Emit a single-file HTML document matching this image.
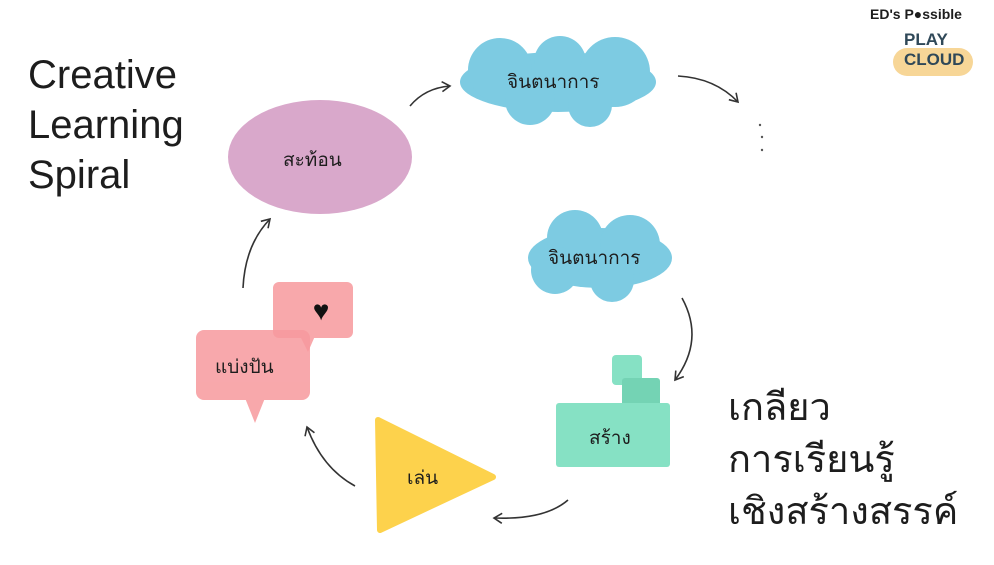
<!DOCTYPE html>
<html><head><meta charset="utf-8"><style>
body{margin:0;width:994px;height:565px;background:#fff;overflow:hidden;position:relative;font-family:"Liberation Sans","Noto Sans CJK SC",sans-serif}
.t{position:absolute;color:#1d1d1d}
</style></head><body>
<svg width="994" height="565" style="position:absolute;left:0;top:0">
<defs><marker id="a" markerWidth="12" markerHeight="12" refX="9" refY="6" orient="auto" markerUnits="userSpaceOnUse"><path d="M1,1 L9,6 L1,11" fill="none" stroke="#333" stroke-width="1.6"/></marker></defs>
<g fill="none" stroke="#333" stroke-width="1.6" marker-end="url(#a)">
<path d="M410,106 Q425,88 450,86"/>
<path d="M678,76 Q715,78 738,102"/>
<path d="M682,298 Q705,340 675,380"/>
<path d="M568,500 Q545,520 494,518"/>
<path d="M355,486 Q322,468 307,427"/>
<path d="M243,288 Q245,245 270,219"/>
</g>
<g fill="#555"><circle cx="760" cy="125" r="1.2"/><circle cx="762" cy="137" r="1.2"/><circle cx="762" cy="150" r="1.2"/></g>
<ellipse cx="320" cy="157" rx="92" ry="57" fill="#d9a8cb"/>
<g fill="#7dcbe2">
<ellipse cx="558" cy="82" rx="98" ry="30"/><circle cx="500" cy="70" r="32"/><circle cx="560" cy="62" r="26"/><circle cx="615" cy="72" r="35"/><circle cx="530" cy="100" r="25"/><circle cx="590" cy="105" r="22"/>
<ellipse cx="600" cy="258" rx="72" ry="30"/><circle cx="575" cy="238" r="28"/><circle cx="630" cy="245" r="30"/><circle cx="612" cy="280" r="22"/><circle cx="555" cy="270" r="24"/>
</g>
<g fill="#86e1c4">
<rect x="612" y="355" width="30" height="30" rx="4"/>
<rect x="622" y="378" width="38" height="32" rx="3" fill="#74d3b4"/>
<rect x="556" y="403" width="114" height="64" rx="3"/>
</g>
<path d="M378,420 L493,477 L380,530 Z" fill="#fdd24c" stroke="#fdd24c" stroke-width="6" stroke-linejoin="round"/>
<g fill="#f7999d" opacity="0.85">
<rect x="273" y="282" width="80" height="56" rx="6"/><path d="M300,336 L315,336 L308,352Z"/>
</g>
<g fill="#f7999d" opacity="0.85">
<rect x="196" y="330" width="114" height="70" rx="8"/><path d="M245,398 L265,398 L255,423Z"/>
</g>
<text x="321" y="320" font-size="28" text-anchor="middle" fill="#111">♥</text>
<rect x="893" y="48" width="80" height="28" rx="14" fill="#f4c46b" opacity=".7"/>
</svg>
<div class="t" style="left:28px;top:50px;font-size:40px;line-height:50px">Creative<br>Learning<br>Spiral</div>
<div class="t" style="left:283px;top:145px;font-size:19px">สะท้อน</div>
<div class="t" style="left:507px;top:67px;font-size:19px">จินตนาการ</div>
<div class="t" style="left:548px;top:243px;font-size:19px">จินตนาการ</div>
<div class="t" style="left:589px;top:423px;font-size:19px">สร้าง</div>
<div class="t" style="left:407px;top:463px;font-size:19px">เล่น</div>
<div class="t" style="left:215px;top:352px;font-size:19px">แบ่งปัน</div>
<div class="t" style="left:728px;top:382px;font-size:38px;line-height:52px">เกลียว<br>การเรียนรู้<br>เชิงสร้างสรรค์</div>
<div class="t" style="left:870px;top:6px;font-size:14px;font-weight:bold">ED's P●ssible</div>
<div class="t" style="left:904px;top:30px;font-size:17px;font-weight:bold;color:#2f4858;line-height:20px">PLAY<br>CLOUD</div>
</body></html>
